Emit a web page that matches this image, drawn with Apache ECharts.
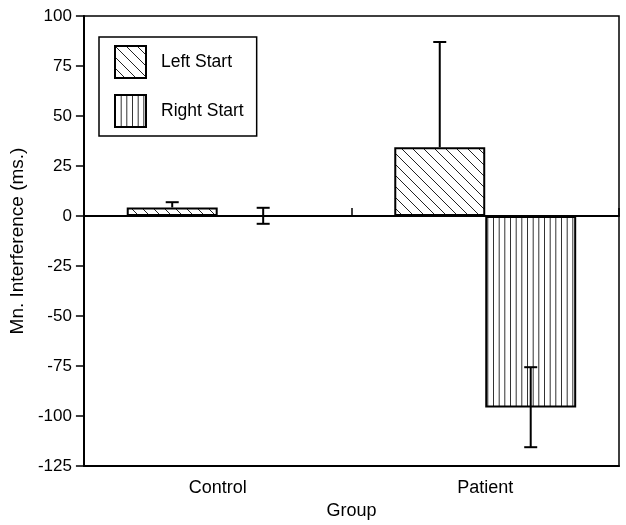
<!DOCTYPE html>
<html>
<head>
<meta charset="utf-8">
<script src="https://cdn.jsdelivr.net/npm/echarts@6/dist/echarts.min.js"></script>
<style>
html,body{margin:0;padding:0;background:#fff;}
#chart{width:626px;height:525px;}
</style>
</head>
<body>
<div id="chart"></div>
<script>
// ---- data ----
const categories = ['Control', 'Patient'];
const seriesNames = ['Left Start', 'Right Start'];
const leftStart = [4.3, 34.4];
const rightStart = [0, -95.8];
const leftErrLow = [4.3, 34.4];
const leftErrHigh = [6.9, 87];
const rightErrLow = [-3.9, -115.6];
const rightErrHigh = [4.1, -75.6];
const yTicks = [-125, -100, -75, -50, -25, 0, 25, 50, 75, 100];

const FONT = '"Liberation Sans", Arial, Helvetica, sans-serif';

function diagPattern() {
  const s = 11;
  const c = document.createElement('canvas');
  c.width = s; c.height = s;
  const g = c.getContext('2d');
  g.fillStyle = '#fff'; g.fillRect(0, 0, s, s);
  g.strokeStyle = '#222'; g.lineWidth = 1;
  g.beginPath();
  g.moveTo(-1, -1); g.lineTo(s + 1, s + 1);
  g.moveTo(-1, s - 1); g.lineTo(1, s + 1);
  g.moveTo(s - 1, -1); g.lineTo(s + 1, 1);
  g.stroke();
  return c;
}
function vertPattern() {
  const w = 17, h = 4;
  const c = document.createElement('canvas');
  c.width = w; c.height = h;
  const g = c.getContext('2d');
  g.fillStyle = '#fff'; g.fillRect(0, 0, w, h);
  g.strokeStyle = '#333'; g.lineWidth = 1;
  g.beginPath();
  [0.5, 6.2, 11.8].forEach(x => { g.moveTo(x, 0); g.lineTo(x, h); });
  g.stroke();
  return c;
}

function errSeries(values, low, high, sign) {
  return {
    type: 'custom',
    xAxisIndex: 0,
    z: 5,
    silent: true,
    data: categories.map((c, i) => [i, low[i], high[i], values[i]]),
    renderItem: function (params, api) {
      const bw = api.size([1, 0])[0];
      const off = sign * bw * 0.68 / 4;
      const x = api.coord([api.value(0), 0])[0] + off;
      const yl = api.coord([api.value(0), api.value(1)])[1];
      const yh = api.coord([api.value(0), api.value(2)])[1];
      const cap = 6.5;
      const st = { stroke: '#000', lineWidth: 2 };
      const children = [
        { type: 'line', shape: { x1: x, y1: yl, x2: x, y2: yh }, style: st },
        { type: 'line', shape: { x1: x - cap, y1: yh, x2: x + cap, y2: yh }, style: st }
      ];
      if (api.value(1) !== api.value(3)) {
        children.push({ type: 'line', shape: { x1: x - cap, y1: yl, x2: x + cap, y2: yl }, style: st });
      }
      return { type: 'group', children: children };
    }
  };
}

const chart = echarts.init(document.getElementById('chart'), null, { renderer: 'canvas' });
chart.setOption({
  animation: false,
  backgroundColor: '#fff',
  textStyle: { fontFamily: FONT, color: '#000' },
  grid: { left: 83, right: 7, top: 16, bottom: 54, show: true, borderColor: '#000', borderWidth: 1.5, backgroundColor: 'transparent' },
  legend: {
    orient: 'vertical',
    left: 99, top: 37,
    padding: [8, 13, 8, 15],
    itemGap: 15,
    itemWidth: 31, itemHeight: 32,
    icon: 'rect',
    backgroundColor: '#fff',
    borderColor: '#000', borderWidth: 1.5,
    textStyle: { fontFamily: FONT, fontSize: 17.5, color: '#000', padding: [0, 0, 0, 10] },
    data: seriesNames
  },
  xAxis: [
    {
      type: 'category', data: categories, position: 'bottom',
      axisLine: { onZero: false, lineStyle: { color: '#000', width: 2 } },
      axisTick: { show: false },
      axisLabel: { fontFamily: FONT, fontSize: 18, color: '#000', margin: 13 },
      name: 'Group', nameLocation: 'middle', nameGap: 36,
      nameTextStyle: { fontFamily: FONT, fontSize: 18, color: '#000' }
    },
    {
      type: 'category', data: categories, position: 'top',
      axisLine: { onZero: true, lineStyle: { color: '#000', width: 2 } },
      axisTick: { show: true, length: 8, lineStyle: { color: '#000', width: 1.5 } },
      axisLabel: { show: false }
    }
  ],
  yAxis: {
    type: 'value', min: yTicks[0], max: yTicks[yTicks.length - 1], interval: 25,
    axisLine: { show: true, onZero: false, lineStyle: { color: '#000', width: 2 } },
    axisTick: { show: true, length: 8, lineStyle: { color: '#000', width: 1.5 } },
    axisLabel: { fontFamily: FONT, fontSize: 17, color: '#000', margin: 12 },
    splitLine: { show: false },
    name: 'Mn. Interference (ms.)', nameLocation: 'middle', nameGap: 51,
    nameTextStyle: { fontFamily: FONT, fontSize: 19, color: '#000' }
  },
  series: [
    {
      name: seriesNames[0], type: 'bar', xAxisIndex: 0, data: leftStart,
      barGap: '0%', barCategoryGap: '32%',
      itemStyle: { color: { image: diagPattern(), repeat: 'repeat' }, borderColor: '#000', borderWidth: 2 },
      emphasis: { disabled: true }
    },
    {
      name: seriesNames[1], type: 'bar', xAxisIndex: 0, data: rightStart,
      barGap: '0%', barCategoryGap: '32%',
      itemStyle: { color: { image: vertPattern(), repeat: 'repeat' }, borderColor: '#000', borderWidth: 2 },
      emphasis: { disabled: true }
    },
    errSeries(leftStart, leftErrLow, leftErrHigh, -1),
    errSeries(rightStart, rightErrLow, rightErrHigh, 1)
  ]
});
</script>
</body>
</html>
